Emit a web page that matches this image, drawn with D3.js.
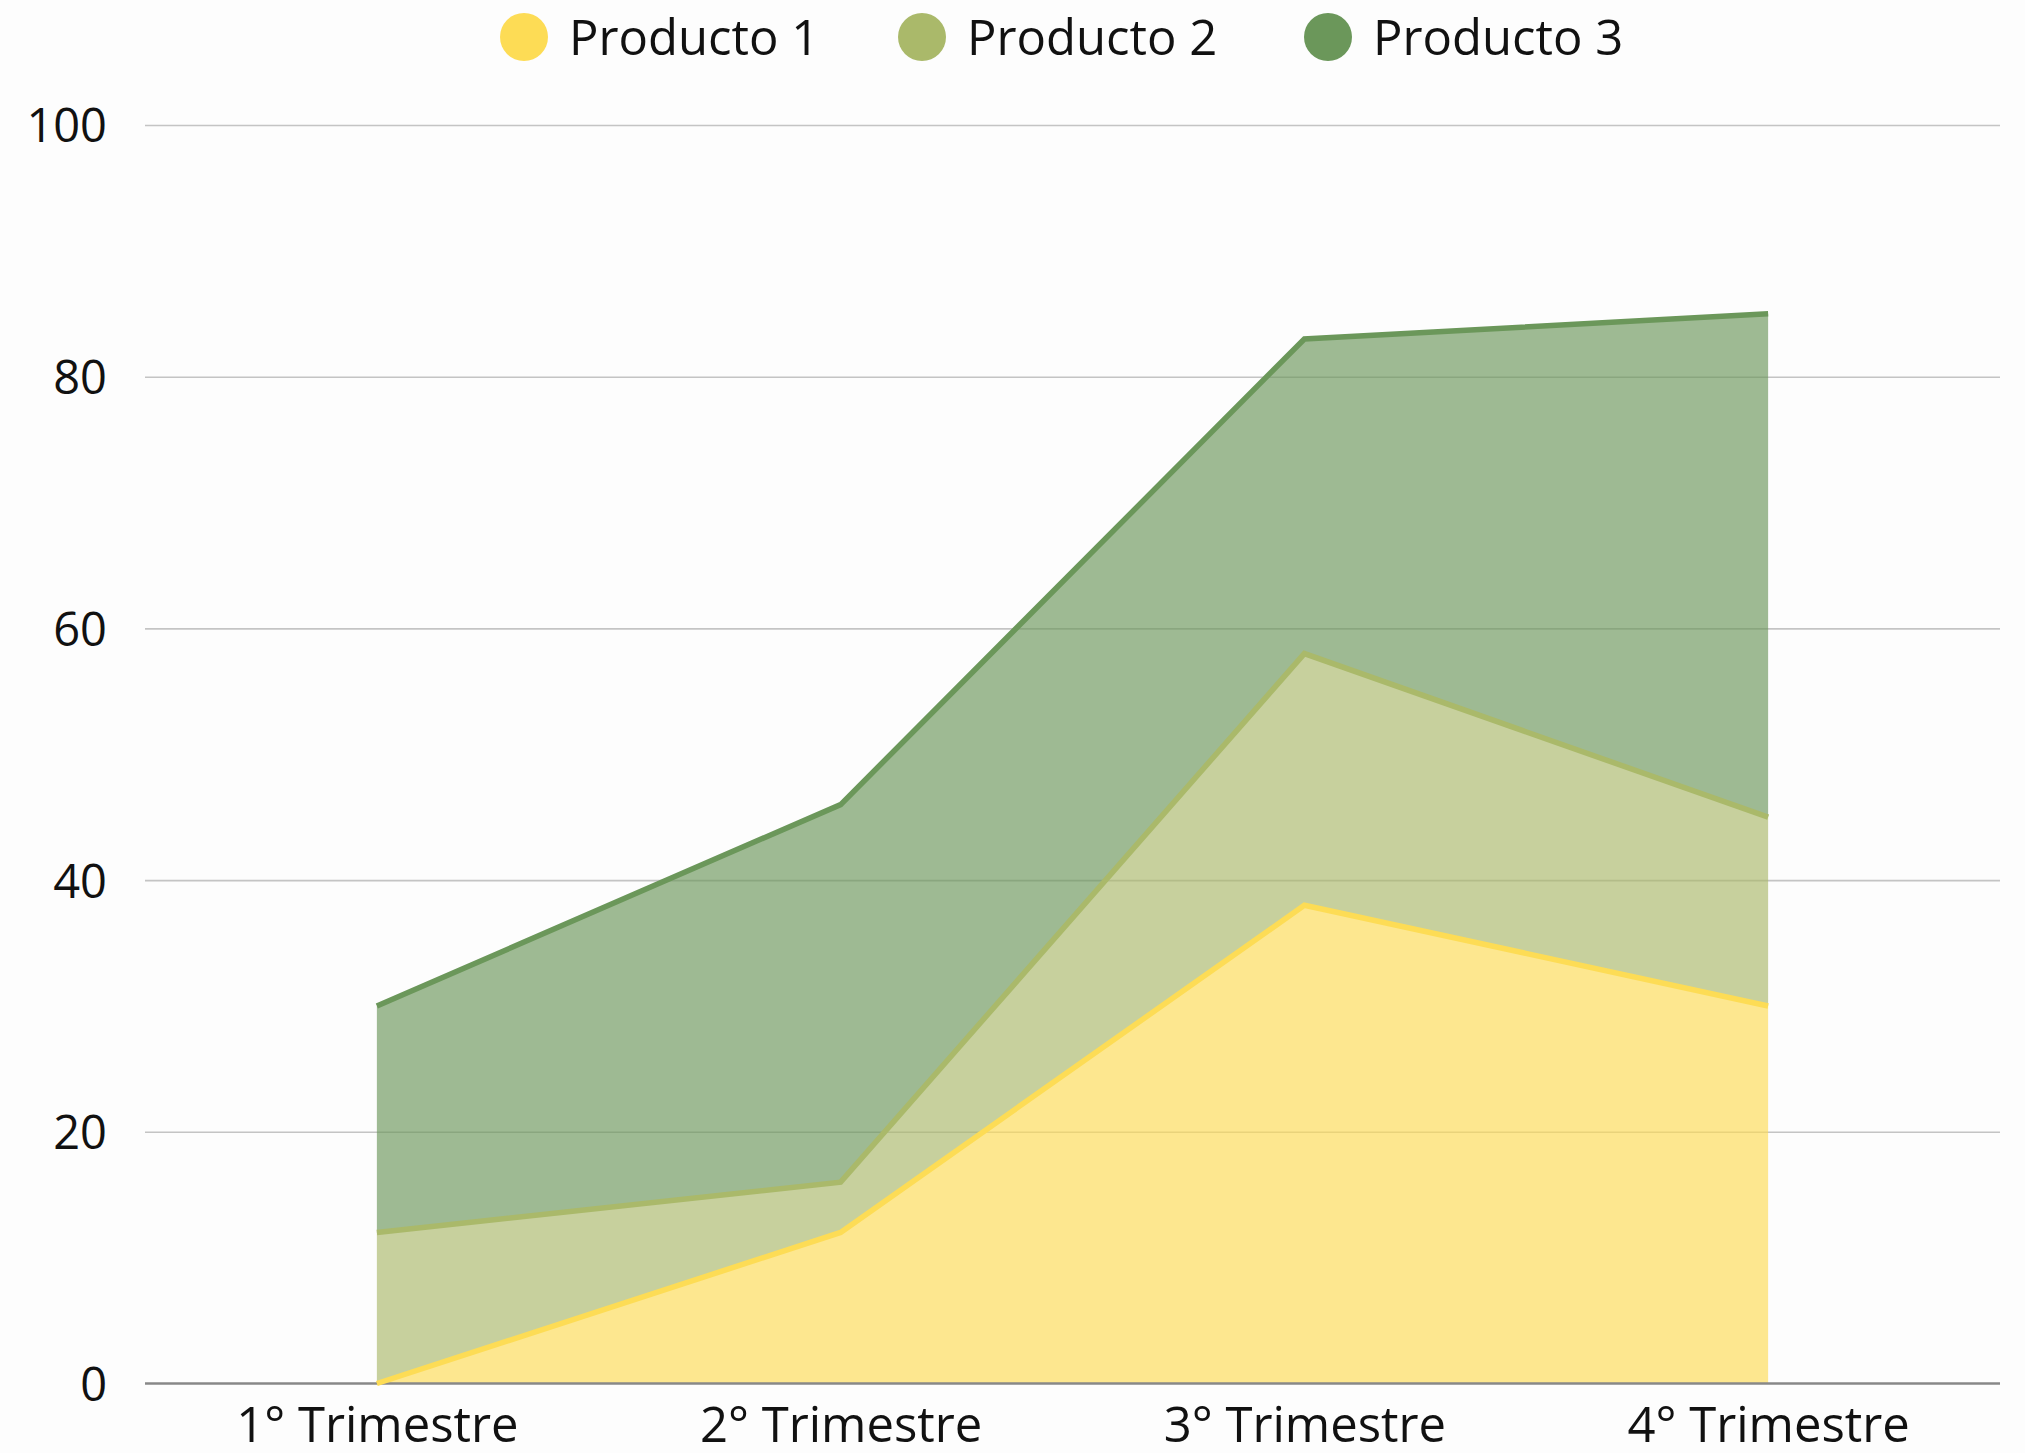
<!DOCTYPE html>
<html lang="es">
<head>
  <meta charset="UTF-8">
  <title>Productos por trimestre</title>
  <script src="https://d3js.org/d3.v7.min.js"></script>
  <style>
    body {
      margin: 0;
      background-color: #fdfdfd;
      font-family: 'Open Sans', sans-serif;
    }
    svg { display: block; }
    .grid line { stroke: #c4c4c4; stroke-width: 1.6px; }
    .grid .domain { display: none; }
    .tick text { fill: #111; }
  </style>
</head>
<body>
<div id="chart"></div>

<script>
  const trimestres = ["1° Trimestre", "2° Trimestre", "3° Trimestre", "4° Trimestre"];
  const series = ["Producto 1", "Producto 2", "Producto 3"];
  const producto1 = [0, 12, 38, 30];
  const producto2 = [12, 4, 20, 15];
  const producto3 = [18, 30, 25, 40];
  const yTicks = [0, 20, 40, 60, 80, 100];

  const lineColors = ["#fddc55", "#aab96a", "#6b975a"];

  const width = 2025, height = 1453;
  const plotLeft = 145, plotRight = 2000, plotTop = 125, plotBottom = 1383.5;

  // tabla para d3.stack
  const rows = trimestres.map((t, i) => ({
    trimestre: t,
    "Producto 1": producto1[i],
    "Producto 2": producto2[i],
    "Producto 3": producto3[i]
  }));

  const stacked = d3.stack().keys(series)(rows);

  const svg = d3.select("#chart")
    .append("svg")
    .attr("width", width)
    .attr("height", height);

  const x = d3.scalePoint()
    .domain(trimestres)
    .range([plotLeft, plotRight])
    .padding(0.5);

  const y = d3.scaleLinear()
    .domain([0, 100])
    .range([plotBottom, plotTop]);

  const color = d3.scaleOrdinal().domain(series).range(lineColors);

  // rejilla + etiquetas del eje y
  const yAxis = svg.append("g")
    .attr("class", "grid")
    .attr("transform", `translate(${plotLeft},0)`)
    .call(d3.axisLeft(y).tickValues(yTicks).tickSize(-(plotRight - plotLeft)).tickPadding(38));

  yAxis.selectAll(".tick text")
    .style("font-family", "'Open Sans', sans-serif")
    .style("font-size", "47px")
    .attr("dy", "0.36em");
  yAxis.selectAll(".tick").filter(d => d === 0).select("line").remove();

  const area = d3.area()
    .x(d => x(d.data.trimestre))
    .y0(d => y(d[0]))
    .y1(d => y(d[1]));

  const line = d3.line()
    .x(d => x(d.data.trimestre))
    .y(d => y(d[1]));

  svg.append("g")
    .selectAll("path")
    .data(stacked)
    .join("path")
    .attr("d", area)
    .attr("fill", d => color(d.key))
    .attr("fill-opacity", 0.65);

  // eje x
  const xAxis = svg.append("g")
    .attr("transform", `translate(0,${plotBottom})`)
    .call(d3.axisBottom(x).tickSize(0).tickPadding(24));
  xAxis.select(".domain")
    .attr("d", `M${plotLeft},0H${plotRight}`)
    .attr("stroke", "#888")
    .attr("stroke-width", 2.5);
  xAxis.selectAll(".tick text")
    .style("font-family", "'Open Sans', sans-serif")
    .style("font-size", "49px")
    .attr("dy", "0.71em");

  svg.append("g")
    .selectAll("path")
    .data(stacked)
    .join("path")
    .attr("d", line)
    .attr("fill", "none")
    .attr("stroke", d => color(d.key))
    .attr("stroke-width", 5.5);

  // leyenda
  const legendX = [524, 922, 1328];
  const legend = svg.append("g")
    .selectAll("g")
    .data(series)
    .join("g")
    .attr("transform", (d, i) => `translate(${legendX[i]},37)`);

  legend.append("circle")
    .attr("r", 24)
    .attr("fill", d => color(d));

  legend.append("text")
    .attr("x", 45)
    .attr("dy", "0.36em")
    .style("font-family", "'Open Sans', sans-serif")
    .style("font-size", "49px")
    .attr("fill", "#111")
    .text(d => d);
</script>
</body>
</html>
